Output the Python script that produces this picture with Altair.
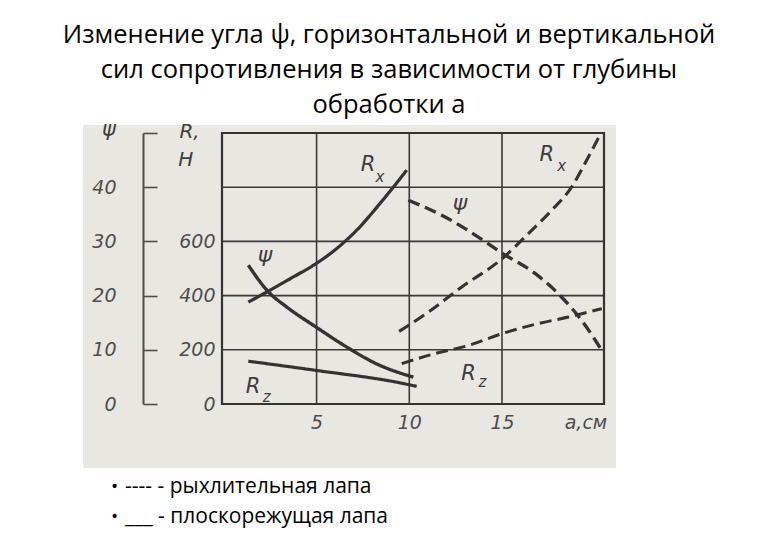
import altair as alt
import pandas as pd

# ---------------- data ----------------
TITLE = ["Изменение угла ψ, горизонтальной и вертикальной",
         "сил сопротивления в зависимости от глубины",
         "обработки а"]
LEGEND_LINES = ["----  - рыхлительная лапа", "___ - плоскорежущая лапа"]

X_GRID = [5, 10, 15]
PSI_GRID = [10, 20, 30, 40]
PSI_TICKS = [0, 10, 20, 30, 40, 50]
PSI_LABELS = [0, 10, 20, 30, 40]
R_LABELS = [0, 200, 400, 600]
X_LABELS = [5, 10, 15, 19.5]
X_DOMAIN = [-0.1, 20.5]
PSI_DOMAIN = [0, 50]
R_DOMAIN = [0, 1000]

# плоскорежущая лапа (solid)
x_rx_solid = [1.32, 2.49, 3.75, 4.97, 6.09, 7.34, 8.42, 9.23, 9.86]
r_rx_solid = [376, 420, 469, 518, 574, 654, 740, 808, 863]
x_psi_solid = [1.32, 2.40, 3.39, 4.97, 6.63, 8.24, 10.22]
psi_solid = [25.6, 20.7, 17.9, 14.2, 10.5, 7.4, 4.95]
x_rz_solid = [1.32, 4.97, 9.5, 10.4]
r_rz_solid = [158, 124, 78, 65]

# рыхлительная лапа (dashed)
x_rx_dash = [9.45, 11.03, 12.83, 15.02, 16.42, 17.68, 18.76, 19.57, 20.23]
r_rx_dash = [268, 339, 432, 537, 629, 715, 801, 900, 986]
x_psi_dash = [9.95, 11.93, 13.72, 15.02, 16.78, 18.22, 19.30, 20.38]
psi_dash = [37.6, 34.5, 30.8, 27.8, 24.1, 19.7, 15.4, 9.9]
x_rz_dash = [9.59, 11.39, 13.19, 15.02, 16.78, 18.58, 20.38]
r_rz_dash = [149, 186, 216, 260, 294, 321, 352]

# curve annotations and axis captions (x in cm, y in ψ units)
lab_text = ["R", "x", "R", "x", "ψ", "ψ", "R", "z", "R", "z", "ψ", "R,", "H"]
lab_x = [7.77, 8.42, 17.41, 18.22, 2.22, 12.74, 1.57, 2.31, 13.19, 13.94, -6.2, -1.85, -2.05]
lab_y = [44.1, 41.9, 45.9, 43.9, 27.4, 37.0, 3.1, 1.3, 5.6, 4.0, 50.6, 50.2, 45.0]
lab_fs = [21, 15, 21, 15, 22, 22, 21, 15, 21, 15, 21, 20, 20]

# ---------------- tables ----------------
def series(xs, ys, name, kind, col):
    return pd.DataFrame({"x": xs, col: ys, "series": name, "kind": kind})

r_df = pd.concat([
    series(x_rx_solid, r_rx_solid, "Rx плоск", "solid", "R"),
    series(x_rz_solid, r_rz_solid, "Rz плоск", "solid", "R"),
    series(x_rx_dash, r_rx_dash, "Rx рыхл", "dashed", "R"),
    series(x_rz_dash, r_rz_dash, "Rz рыхл", "dashed", "R"),
], ignore_index=True)
psi_df = pd.concat([
    series(x_psi_solid, psi_solid, "ψ плоск", "solid", "psi"),
    series(x_psi_dash, psi_dash, "ψ рыхл", "dashed", "psi"),
], ignore_index=True)
lab_df = pd.DataFrame({"t": lab_text, "x": lab_x, "y": lab_y, "fs": lab_fs})
frame_df = pd.DataFrame({"x0": [X_DOMAIN[0]], "x1": [X_DOMAIN[1]],
                         "y0": [PSI_DOMAIN[0]], "y1": [PSI_DOMAIN[1]]})

INK = "#333333"
AX = "#4d4d4d"
XSCALE = alt.Scale(domain=X_DOMAIN, nice=False, zero=False)
XAXIS = alt.Axis(values=X_LABELS, grid=False, ticks=False, domain=False, zindex=1,
                 labelExpr="datum.value > 17 ? 'а,см' : datum.label",
                 labelFont="DejaVu Sans", labelFontStyle="italic",
                 labelFontSize=19, labelColor=AX, labelPadding=9)
PSI_SCALE = alt.Scale(domain=PSI_DOMAIN, nice=False)
R_SCALE = alt.Scale(domain=R_DOMAIN, nice=False)
DASH = alt.StrokeDash("kind:N", scale=alt.Scale(domain=["solid", "dashed"],
                                                range=[[1, 0], [12, 6]]), legend=None)

bg = alt.Chart(pd.DataFrame({"a": [0]})).mark_rect(color="#e9e7e2").encode(
    x=alt.value(-139), x2=alt.value(394), y=alt.value(-8), y2=alt.value(335))

frame = alt.Chart(frame_df).mark_rect(filled=False, stroke="#333333", strokeWidth=2.2).encode(
    x=alt.X("x0:Q", scale=XSCALE, axis=XAXIS, title=None), x2="x1:Q",
    y=alt.Y("y0:Q", scale=PSI_SCALE, axis=None), y2="y1:Q")

vgrid = alt.Chart(pd.DataFrame({"x": X_GRID})).mark_rule(color="#3a3a3a", strokeWidth=1.6).encode(
    x=alt.X("x:Q", scale=XSCALE, axis=XAXIS, title=None))

hgrid = alt.Chart(pd.DataFrame({"y": PSI_GRID})).mark_rule(color="#3a3a3a", strokeWidth=1.6).encode(
    y=alt.Y("y:Q", scale=PSI_SCALE, title=None,
            axis=alt.Axis(orient="left", offset=65, values=PSI_TICKS, tickSize=14, zindex=1,
                          tickColor=AX, tickWidth=1.6, labels=False, domain=False, grid=False)))

psi_lines = alt.Chart(psi_df).mark_line(color=INK, interpolate="monotone").encode(
    x=alt.X("x:Q", scale=XSCALE, axis=XAXIS, title=None),
    y=alt.Y("psi:Q", scale=PSI_SCALE, title=None,
            axis=alt.Axis(orient="left", offset=79, values=PSI_LABELS, ticks=False, zindex=1,
                          domain=True, domainColor=AX, domainWidth=2, grid=False,
                          labelFont="DejaVu Sans", labelFontStyle="italic",
                          labelFontSize=19, labelColor=AX, labelPadding=27)),
    detail="series:N",
    strokeDash=DASH,
    strokeWidth=alt.StrokeWidth("series:N", scale=alt.Scale(domain=["ψ плоск", "ψ рыхл"],
                                                            range=[3.4, 3.0]), legend=None),
)

r_lines = alt.Chart(r_df).mark_line(color=INK, interpolate="monotone").encode(
    x=alt.X("x:Q", scale=XSCALE, axis=XAXIS, title=None),
    y=alt.Y("R:Q", scale=R_SCALE, title=None,
            axis=alt.Axis(orient="left", offset=0, values=R_LABELS, ticks=False, zindex=1,
                          domain=False, grid=False,
                          labelFont="DejaVu Sans", labelFontStyle="italic",
                          labelFontSize=19, labelColor=AX, labelPadding=7)),
    detail="series:N",
    strokeDash=DASH,
    strokeWidth=alt.StrokeWidth("series:N",
                                scale=alt.Scale(domain=["Rx плоск", "Rz плоск", "Rx рыхл", "Rz рыхл"],
                                                range=[4.6, 3.8, 3.0, 3.0]), legend=None),
)

labels = alt.Chart(lab_df).mark_text(font="DejaVu Sans", fontStyle="italic", color="#3d3d3d",
                                     align="center", baseline="middle").encode(
    x=alt.X("x:Q", scale=XSCALE, axis=XAXIS, title=None),
    y=alt.Y("y:Q", scale=PSI_SCALE, axis=None),
    text="t:N",
    size=alt.Size("fs:Q", scale=None, legend=None),
)

leg_df = pd.DataFrame({"t": LEGEND_LINES, "i": [0, 1]})
YOFF = alt.YOffset("i:Q", scale=alt.Scale(domain=[0, 1], range=[0, 30]))
bullets = alt.Chart(leg_df).mark_text(text="•", fontSize=19, font="Open Sans", color="black",
                                      align="left", baseline="middle").encode(
    x=alt.value(-111), y=alt.value(354), yOffset=YOFF)
leg_text = alt.Chart(leg_df).mark_text(fontSize=21, font="Open Sans", color="black",
                                       align="left", baseline="middle").encode(
    x=alt.value(-97), y=alt.value(354), text="t:N", yOffset=YOFF)

chart = alt.layer(bg, vgrid, hgrid, frame, psi_lines, r_lines, labels, bullets, leg_text).resolve_scale(
    y="independent"
).properties(
    width=382, height=271,
    autosize=alt.AutoSizeParams(type="none"),
    padding={"left": 214, "top": 125, "right": 150, "bottom": 128},
    title=alt.TitleParams(text=TITLE, font="Open Sans", fontSize=25.5, fontWeight="normal",
                          color="black", lineHeight=35, anchor="middle", offset=0, dx=-24),
    background="white",
).configure_view(stroke=None)

chart.save("out.html", embed_options={"renderer": "svg", "actions": False})
